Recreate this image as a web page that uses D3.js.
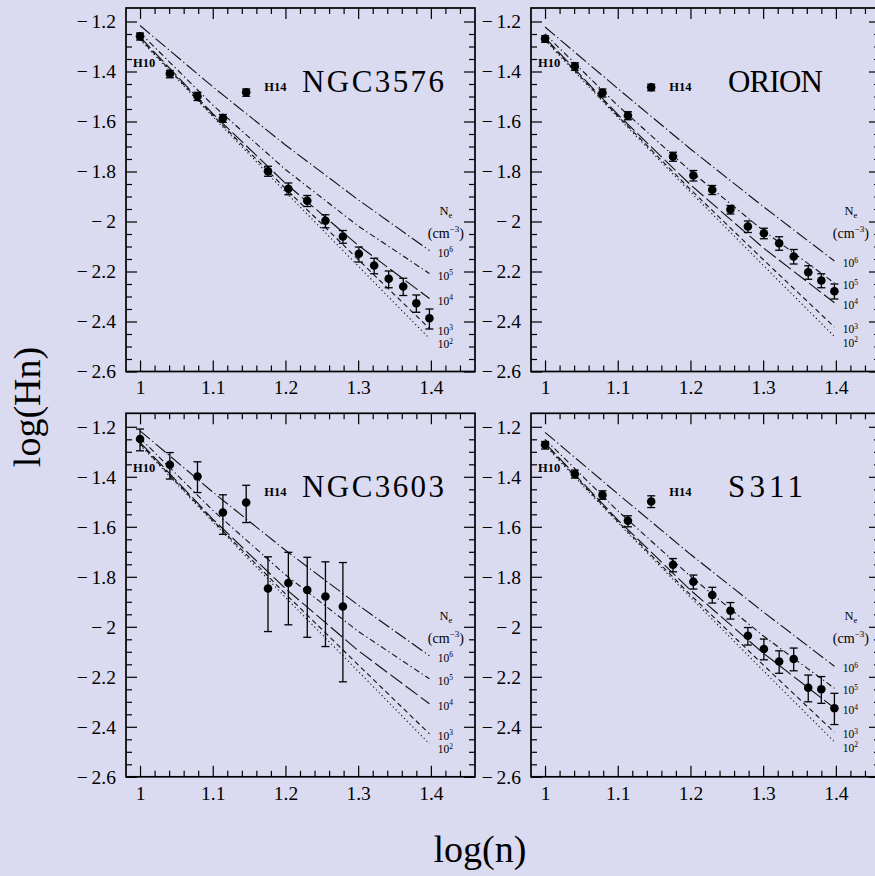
<!DOCTYPE html>
<html>
<head>
<meta charset="utf-8">
<script src="https://cdn.jsdelivr.net/npm/d3@7"></script>
<style>
  html, body { margin: 0; padding: 0; background: #dadaf0; }
  svg { display: block; }
</style>
</head>
<body>
<svg id="chart" width="875" height="876"></svg>
<script>
// ---- data -------------------------------------------------------------
// log10(n) for the Balmer lines H10 ... H25
const logN = [1.000, 1.041, 1.079, 1.114, 1.146, 1.176, 1.204, 1.230,
              1.255, 1.279, 1.301, 1.322, 1.342, 1.362, 1.380, 1.398];

// observed log intensities (relative to Hbeta) and asymmetric errors
const ngc3576Values = [-1.259, -1.409, -1.499, -1.587, -1.483, -1.799, -1.869, -1.917,
                       -1.997, -2.060, -2.129, -2.176, -2.229, -2.260, -2.327, -2.387];
const ngc3576ErrUp  = [0.013, 0.013, 0.016, 0.015, 0.013, 0.020, 0.023, 0.021,
                       0.024, 0.024, 0.027, 0.029, 0.031, 0.033, 0.033, 0.037];
const ngc3576ErrDn  = [0.015, 0.016, 0.017, 0.016, 0.016, 0.020, 0.024, 0.023,
                       0.028, 0.027, 0.033, 0.033, 0.036, 0.036, 0.036, 0.043];

const orionValues = [-1.269, -1.379, -1.485, -1.576, -1.463, -1.740, -1.816, -1.873,
                     -1.952, -2.020, -2.047, -2.087, -2.140, -2.203, -2.236, -2.279];
const orionErrUp  = [0.012, 0.014, 0.015, 0.015, 0.012, 0.017, 0.020, 0.017,
                     0.016, 0.022, 0.020, 0.026, 0.028, 0.026, 0.027, 0.029];
const orionErrDn  = [0.014, 0.016, 0.017, 0.017, 0.014, 0.019, 0.022, 0.019,
                     0.018, 0.024, 0.022, 0.028, 0.030, 0.028, 0.029, 0.031];

const ngc3603Values = [-1.249, -1.352, -1.399, -1.543, -1.503, -1.847, -1.825, -1.853, -1.879, -1.919];
const ngc3603ErrUp  = [0.040, 0.049, 0.059, 0.071, 0.069, 0.127, 0.123, 0.131, 0.139, 0.176];
const ngc3603ErrDn  = [0.047, 0.057, 0.064, 0.087, 0.080, 0.172, 0.167, 0.189, 0.200, 0.301];

const s311Values = [-1.272, -1.389, -1.473, -1.576, -1.499, -1.752, -1.820, -1.873,
                    -1.936, -2.036, -2.089, -2.139, -2.129, -2.244, -2.250, -2.326];
const s311ErrUp  = [0.013, 0.016, 0.017, 0.020, 0.023, 0.025, 0.027, 0.031,
                    0.033, 0.033, 0.040, 0.043, 0.044, 0.051, 0.051, 0.060];
const s311ErrDn  = [0.017, 0.016, 0.017, 0.024, 0.024, 0.028, 0.029, 0.032,
                    0.033, 0.037, 0.043, 0.047, 0.047, 0.056, 0.056, 0.065];

// theoretical decrements for electron densities 10^6 ... 10^2 cm^-3
const modelLogN = [1.0, 1.1, 1.2, 1.3, 1.398];
const densityExponents = ["6", "5", "4", "3", "2"];
const modelLeft = [
  [-1.216, -1.461, -1.694, -1.913, -2.116],
  [-1.245, -1.534, -1.792, -2.018, -2.208],
  [-1.262, -1.569, -1.847, -2.095, -2.308],
  [-1.268, -1.575, -1.868, -2.152, -2.428],
  [-1.272, -1.580, -1.882, -2.178, -2.468]
];
const modelRight = [
  [-1.222, -1.468, -1.710, -1.940, -2.158],
  [-1.250, -1.536, -1.798, -2.036, -2.246],
  [-1.265, -1.572, -1.853, -2.105, -2.325],
  [-1.270, -1.578, -1.872, -2.152, -2.422],
  [-1.275, -1.583, -1.882, -2.175, -2.460]
];

// axis ticks
const xMajor = [1, 1.1, 1.2, 1.3, 1.4];
const xMinor = [1.02, 1.04, 1.06, 1.08, 1.12, 1.14, 1.16, 1.18, 1.22, 1.24, 1.26, 1.28,
                1.32, 1.34, 1.36, 1.38, 1.42, 1.44];
const yMajor = [-1.2, -1.4, -1.6, -1.8, -2, -2.2, -2.4, -2.6];
const yMinor = [-1.25, -1.3, -1.35, -1.45, -1.5, -1.55, -1.65, -1.7, -1.75, -1.85, -1.9, -1.95,
                -2.05, -2.1, -2.15, -2.25, -2.3, -2.35, -2.45, -2.5, -2.55];

// ---- layout -----------------------------------------------------------
const SERIF = "'Liberation Serif', 'Times New Roman', serif";
const colX = [126, 531];
const rowY = [8, 413.3];
const W = 349, H = 363.5;

const panels = [
  { title: "NGC3576", titleDx: 176, titleLen: 142, values: ngc3576Values, up: ngc3576ErrUp, dn: ngc3576ErrDn, model: modelLeft,  col: 0, row: 0 },
  { title: "ORION",   titleDx: 197, titleLen: 95,  values: orionValues,   up: orionErrUp,   dn: orionErrDn,   model: modelRight, col: 1, row: 0 },
  { title: "NGC3603", titleDx: 176, titleLen: 142, values: ngc3603Values, up: ngc3603ErrUp, dn: ngc3603ErrDn, model: modelLeft,  col: 0, row: 1 },
  { title: "S311",    titleDx: 197, titleLen: 75,  values: s311Values,    up: s311ErrUp,    dn: s311ErrDn,    model: modelRight, col: 1, row: 1 }
];

// line styles: dot-long dash, dot-short dash, long dash, short dash, dotted
const dashes = ["13,3,1.3,3", "6,3,1.3,3", "15,4", "5,3.5", "1.2,2.8"];

const x = d3.scaleLinear().domain([0.9807, 1.4607]).range([0, W]);
const y = d3.scaleLinear().domain([-2.6, -1.146]).range([H, 0]);
const fmt = d3.format("~g");
const fmtY = d => fmt(d).replace("\u2212", "\u2212\u2009");

const svg = d3.select("#chart");

function styleAxis(g, withText) {
  g.select(".domain").remove();
  g.attr("font-family", SERIF).attr("font-size", 19.5);
  g.selectAll(".tick line").attr("stroke", "#000").attr("stroke-width", 1.2);
  g.selectAll(".tick text").attr("fill", "#000");
  if (!withText) g.selectAll(".tick text").remove();
}

panels.forEach(p => {
  const g = svg.append("g")
    .attr("transform", `translate(${colX[p.col]},${rowY[p.row]})`);

  // ticks on all four sides, pointing inward
  const xAxes = [
    { ax: () => d3.axisBottom(x), t: `translate(0,${H})`, text: true },
    { ax: () => d3.axisTop(x),    t: "translate(0,0)",    text: false }
  ];
  xAxes.forEach(a => {
    g.append("g").attr("transform", a.t)
      .call(a.ax().tickValues(xMajor).tickSize(-11).tickPadding(9).tickFormat(fmt))
      .call(s => styleAxis(s, a.text));
    g.append("g").attr("transform", a.t)
      .call(a.ax().tickValues(xMinor).tickSize(-6).tickFormat(""))
      .call(s => styleAxis(s, false));
  });
  const yAxes = [
    { ax: () => d3.axisLeft(y),  t: "translate(0,0)",    text: true },
    { ax: () => d3.axisRight(y), t: `translate(${W},0)`, text: false }
  ];
  yAxes.forEach(a => {
    g.append("g").attr("transform", a.t)
      .call(a.ax().tickValues(yMajor).tickSize(-11).tickPadding(10).tickFormat(fmtY))
      .call(s => styleAxis(s, a.text));
    g.append("g").attr("transform", a.t)
      .call(a.ax().tickValues(yMinor).tickSize(-6).tickFormat(""))
      .call(s => styleAxis(s, false));
  });

  // frame
  g.append("rect")
    .attr("x", 0).attr("y", 0).attr("width", W).attr("height", H)
    .attr("fill", "none").attr("stroke", "#000").attr("stroke-width", 1.7);

  // model curves
  const line = d3.line().x((d, i) => x(modelLogN[i])).y(d => y(d));
  p.model.forEach((vals, k) => {
    g.append("path")
      .attr("d", line(vals))
      .attr("fill", "none")
      .attr("stroke", "#111")
      .attr("stroke-width", 1.1)
      .attr("stroke-dasharray", dashes[k]);
  });

  // density labels at the right-hand end of each curve
  const lx = x(1.4) + 7;
  let prev = -Infinity;
  p.model.forEach((vals, k) => {
    let by = y(vals[vals.length - 1]) + 6;
    if (by < prev + 13.5) by = prev + 13.5;
    prev = by;
    const t = g.append("text")
      .attr("x", lx).attr("y", by)
      .attr("font-family", SERIF).attr("font-size", 11.5).attr("fill", "#000");
    t.append("tspan").text("10");
    t.append("tspan").attr("font-size", 7.5).attr("dy", -4.5).text(densityExponents[k]);
  });
  const nx = x(1.4) + 15;
  const ne = g.append("text")
    .attr("x", nx).attr("y", 207).attr("text-anchor", "middle")
    .attr("font-family", SERIF).attr("font-size", 12.5).attr("fill", "#000");
  ne.append("tspan").text("N");
  ne.append("tspan").attr("font-size", 8.5).attr("dy", 2.5).text("e");
  const cm = g.append("text")
    .attr("x", nx).attr("y", 230).attr("text-anchor", "middle")
    .attr("font-family", SERIF).attr("font-size", 14).attr("fill", "#000");
  cm.append("tspan").text("(cm");
  cm.append("tspan").attr("font-size", 9).attr("dy", -6).text("−3");
  cm.append("tspan").attr("dy", 6).text(")");

  // observed points with error bars
  const pts = p.values.map((v, i) => ({ x: logN[i], v, up: p.up[i], dn: p.dn[i] }));
  const eg = g.append("g").attr("stroke", "#000").attr("stroke-width", 1.3);
  pts.forEach(d => {
    const cx = x(d.x), yt = y(d.v + d.up), yb = y(d.v - d.dn);
    eg.append("line").attr("x1", cx).attr("x2", cx).attr("y1", yt).attr("y2", yb);
    eg.append("line").attr("x1", cx - 4).attr("x2", cx + 4).attr("y1", yt).attr("y2", yt);
    eg.append("line").attr("x1", cx - 4).attr("x2", cx + 4).attr("y1", yb).attr("y2", yb);
  });
  g.append("g").selectAll("circle").data(pts).join("circle")
    .attr("cx", d => x(d.x)).attr("cy", d => y(d.v)).attr("r", 4.3)
    .attr("fill", "#000");

  // line identifications
  g.append("text").attr("x", x(logN[0]) - 7).attr("y", 59)
    .attr("font-family", SERIF).attr("font-weight", "bold").attr("font-size", 12.5)
    .attr("fill", "#000").text("H10");
  g.append("text").attr("x", x(logN[4]) + 18).attr("y", 83)
    .attr("font-family", SERIF).attr("font-weight", "bold").attr("font-size", 12.5)
    .attr("fill", "#000").text("H14");

  // object name
  g.append("text").attr("x", p.titleDx).attr("y", 84)
    .attr("font-family", SERIF).attr("font-size", 31).attr("fill", "#000")
    .attr("textLength", p.titleLen).attr("lengthAdjust", "spacing")
    .text(p.title);
});

// axis titles
svg.append("text")
  .attr("transform", "translate(40,407) rotate(-90)")
  .attr("text-anchor", "middle")
  .attr("font-family", SERIF).attr("font-size", 38).attr("fill", "#000")
  .text("log(Hn)");
svg.append("text")
  .attr("x", 480).attr("y", 862)
  .attr("text-anchor", "middle")
  .attr("font-family", SERIF).attr("font-size", 38).attr("fill", "#000")
  .text("log(n)");
</script>
</body>
</html>
